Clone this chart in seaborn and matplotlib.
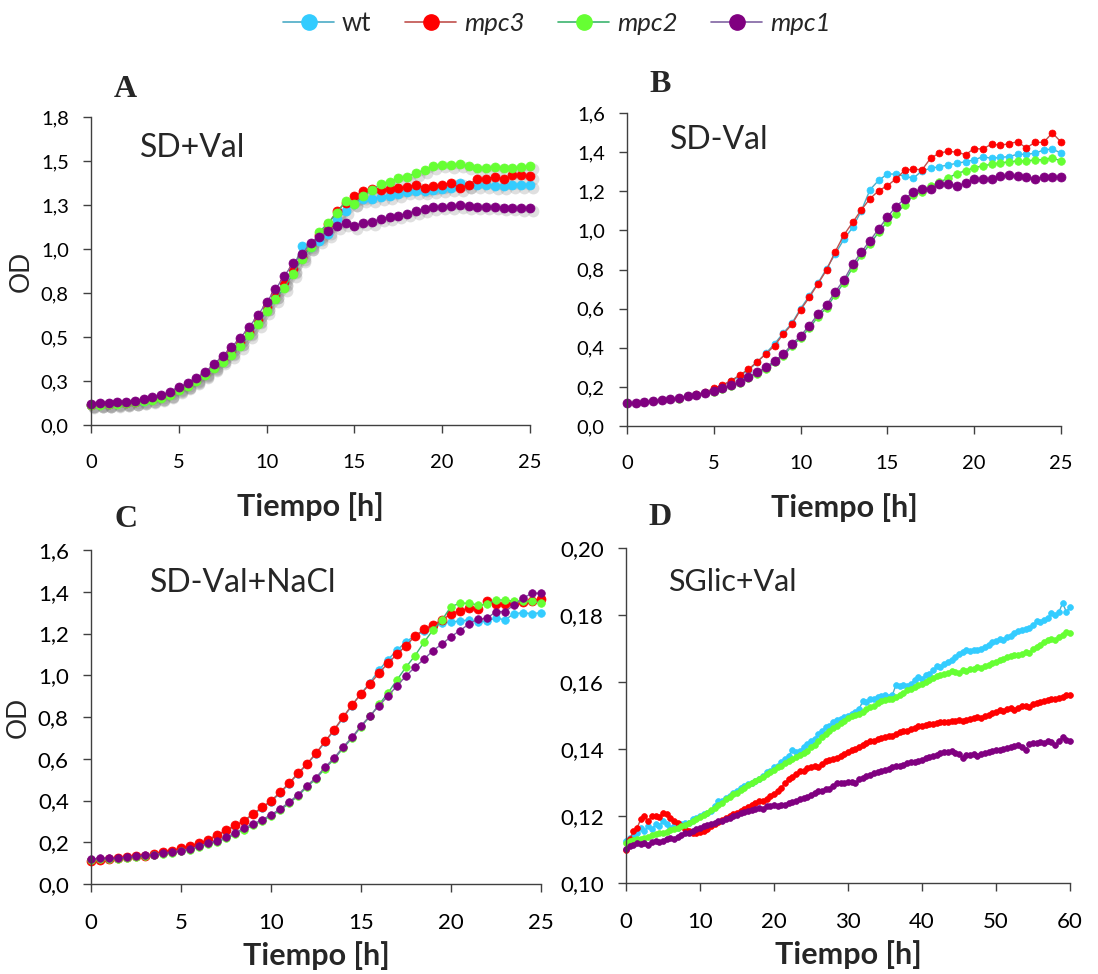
import matplotlib
matplotlib.use("Agg")
import matplotlib.pyplot as plt
from matplotlib.lines import Line2D
from matplotlib.transforms import ScaledTranslation
import numpy as np
import seaborn as sns

# ---- data ---------------------------------------------------------------
strains = ["wt", "mpc3", "mpc2", "mpc1"]

hours_25 = np.arange(0, 25.5, 0.5)
hours_60 = np.arange(0, 60.5, 0.5)

# A: SD+Val
a_wt = [0.115, 0.117, 0.119, 0.122, 0.126, 0.131, 0.137, 0.146, 0.158, 0.175,
        0.205, 0.226, 0.256, 0.290, 0.330, 0.373, 0.416, 0.468, 0.528, 0.596,
        0.668, 0.738, 0.808, 0.880, 1.018, 1.009, 1.047, 1.084, 1.169, 1.213,
        1.258, 1.282, 1.282, 1.296, 1.301, 1.311, 1.326, 1.330, 1.330, 1.333,
        1.339, 1.348, 1.377, 1.364, 1.364, 1.364, 1.358, 1.358, 1.362, 1.362,
        1.362]
a_mpc3 = [0.115, 0.118, 0.120, 0.123, 0.127, 0.132, 0.139, 0.148, 0.160, 0.177,
          0.207, 0.228, 0.258, 0.292, 0.332, 0.375, 0.418, 0.470, 0.530, 0.598,
          0.670, 0.740, 0.810, 0.885, 0.955, 1.020, 1.080, 1.141, 1.216, 1.264,
          1.301, 1.330, 1.339, 1.333, 1.339, 1.348, 1.352, 1.364, 1.348, 1.358,
          1.364, 1.377, 1.348, 1.364, 1.399, 1.399, 1.409, 1.396, 1.418, 1.418,
          1.414]
a_mpc2 = [0.113, 0.115, 0.117, 0.120, 0.124, 0.128, 0.134, 0.142, 0.153, 0.168,
          0.200, 0.222, 0.250, 0.285, 0.321, 0.360, 0.396, 0.450, 0.509, 0.575,
          0.645, 0.713, 0.779, 0.858, 0.943, 1.009, 1.094, 1.150, 1.203, 1.273,
          1.258, 1.301, 1.333, 1.371, 1.380, 1.405, 1.409, 1.433, 1.447, 1.471,
          1.479, 1.475, 1.484, 1.471, 1.458, 1.462, 1.465, 1.462, 1.458, 1.465,
          1.471]
a_mpc1 = [0.119, 0.123, 0.123, 0.128, 0.132, 0.138, 0.147, 0.157, 0.170, 0.189,
          0.217, 0.236, 0.268, 0.300, 0.345, 0.392, 0.443, 0.494, 0.556, 0.622,
          0.698, 0.770, 0.845, 0.918, 0.969, 1.034, 1.069, 1.103, 1.128, 1.149,
          1.132, 1.150, 1.152, 1.173, 1.179, 1.190, 1.201, 1.216, 1.226, 1.239,
          1.241, 1.245, 1.247, 1.243, 1.241, 1.241, 1.241, 1.235, 1.235, 1.232,
          1.232]

# B: SD-Val
b_wt = [0.119, 0.119, 0.122, 0.127, 0.132, 0.137, 0.141, 0.152, 0.161, 0.171,
        0.190, 0.206, 0.228, 0.257, 0.286, 0.326, 0.372, 0.420, 0.475, 0.525,
        0.600, 0.665, 0.730, 0.805, 0.880, 0.955, 1.015, 1.100, 1.208, 1.256,
        1.288, 1.288, 1.276, 1.267, 1.305, 1.317, 1.326, 1.334, 1.343, 1.351,
        1.360, 1.377, 1.368, 1.373, 1.377, 1.389, 1.389, 1.394, 1.411, 1.416,
        1.395]
b_mpc3 = [0.119, 0.119, 0.123, 0.128, 0.133, 0.138, 0.142, 0.154, 0.162, 0.172,
          0.193, 0.210, 0.232, 0.261, 0.290, 0.329, 0.368, 0.411, 0.469, 0.520,
          0.594, 0.657, 0.727, 0.798, 0.892, 0.977, 1.041, 1.105, 1.162, 1.203,
          1.228, 1.264, 1.307, 1.313, 1.310, 1.370, 1.395, 1.404, 1.400, 1.387,
          1.418, 1.416, 1.441, 1.435, 1.443, 1.453, 1.421, 1.450, 1.450, 1.498,
          1.452]
b_mpc2 = [0.117, 0.118, 0.121, 0.126, 0.131, 0.136, 0.140, 0.151, 0.157, 0.168,
          0.176, 0.189, 0.205, 0.222, 0.246, 0.268, 0.292, 0.325, 0.358, 0.408,
          0.450, 0.500, 0.558, 0.605, 0.672, 0.732, 0.810, 0.872, 0.932, 0.990,
          1.045, 1.085, 1.130, 1.180, 1.195, 1.225, 1.245, 1.268, 1.290, 1.305,
          1.320, 1.330, 1.338, 1.345, 1.350, 1.355, 1.355, 1.360, 1.362, 1.370,
          1.355]
b_mpc1 = [0.119, 0.119, 0.123, 0.128, 0.133, 0.138, 0.142, 0.154, 0.159, 0.171,
          0.179, 0.193, 0.210, 0.227, 0.252, 0.275, 0.300, 0.333, 0.367, 0.418,
          0.462, 0.513, 0.571, 0.619, 0.687, 0.747, 0.827, 0.889, 0.948, 1.008,
          1.068, 1.122, 1.162, 1.196, 1.213, 1.213, 1.238, 1.237, 1.228, 1.242,
          1.262, 1.264, 1.264, 1.276, 1.281, 1.279, 1.271, 1.264, 1.273, 1.273,
          1.273]

# C: SD-Val+NaCl
c_wt = [0.115, 0.118, 0.121, 0.124, 0.128, 0.132, 0.136, 0.143, 0.150, 0.158,
        0.169, 0.180, 0.193, 0.209, 0.232, 0.253, 0.277, 0.300, 0.333, 0.363,
        0.395, 0.435, 0.480, 0.528, 0.573, 0.624, 0.680, 0.735, 0.795, 0.855,
        0.912, 0.965, 1.025, 1.075, 1.120, 1.160, 1.190, 1.210, 1.230, 1.250,
        1.255, 1.260, 1.265, 1.255, 1.260, 1.275, 1.265, 1.295, 1.300, 1.295,
        1.300]
c_mpc3 = [0.112, 0.116, 0.120, 0.123, 0.128, 0.132, 0.136, 0.144, 0.152, 0.160,
          0.172, 0.183, 0.196, 0.212, 0.236, 0.257, 0.281, 0.303, 0.337, 0.367,
          0.399, 0.439, 0.483, 0.531, 0.576, 0.627, 0.683, 0.739, 0.799, 0.858,
          0.911, 0.959, 1.010, 1.058, 1.101, 1.141, 1.188, 1.220, 1.242, 1.265,
          1.294, 1.310, 1.320, 1.318, 1.355, 1.340, 1.340, 1.345, 1.350, 1.355,
          1.365]
c_mpc2 = [0.115, 0.118, 0.120, 0.122, 0.126, 0.130, 0.134, 0.139, 0.145, 0.150,
          0.157, 0.164, 0.176, 0.190, 0.202, 0.218, 0.238, 0.261, 0.281, 0.302,
          0.326, 0.353, 0.386, 0.422, 0.465, 0.504, 0.553, 0.597, 0.650, 0.698,
          0.753, 0.803, 0.860, 0.915, 0.978, 1.039, 1.094, 1.158, 1.217, 1.265,
          1.329, 1.345, 1.345, 1.337, 1.340, 1.361, 1.360, 1.355, 1.355, 1.355,
          1.345]
c_mpc1 = [0.120, 0.123, 0.123, 0.123, 0.128, 0.132, 0.137, 0.140, 0.148, 0.153,
          0.160, 0.167, 0.180, 0.196, 0.207, 0.223, 0.244, 0.268, 0.287, 0.308,
          0.332, 0.359, 0.392, 0.428, 0.471, 0.510, 0.560, 0.603, 0.656, 0.703,
          0.758, 0.806, 0.853, 0.901, 0.949, 0.997, 1.039, 1.077, 1.118, 1.150,
          1.185, 1.214, 1.246, 1.268, 1.273, 1.305, 1.305, 1.337, 1.369, 1.393,
          1.393]

# D: SGlic+Val (0-60 h)
d_wt = [0.1125, 0.1135, 0.1140, 0.1150, 0.1165, 0.1155, 0.1170, 0.1160, 0.1175, 0.1170,
        0.1185, 0.1175, 0.1165, 0.1170, 0.1165, 0.1175, 0.1180, 0.1180, 0.1190, 0.1195,
        0.1200, 0.1205, 0.1210, 0.1215, 0.1230, 0.1245, 0.1245, 0.1255, 0.1260, 0.1270,
        0.1275, 0.1285, 0.1290, 0.1295, 0.1300, 0.1305, 0.1310, 0.1320, 0.1330, 0.1335,
        0.1345, 0.1350, 0.1360, 0.1370, 0.1380, 0.1398, 0.1390, 0.1395, 0.1405, 0.1415,
        0.1425, 0.1430, 0.1445, 0.1455, 0.1465, 0.1470, 0.1480, 0.1488, 0.1490, 0.1495,
        0.1500, 0.1505, 0.1510, 0.1520, 0.1542, 0.1540, 0.1548, 0.1550, 0.1555, 0.1558,
        0.1560, 0.1555, 0.1562, 0.1592, 0.1588, 0.1590, 0.1589, 0.1595, 0.1605, 0.1615,
        0.1610, 0.1620, 0.1625, 0.1635, 0.1647, 0.1645, 0.1655, 0.1660, 0.1665, 0.1675,
        0.1685, 0.1690, 0.1697, 0.1692, 0.1695, 0.1697, 0.1700, 0.1705, 0.1712, 0.1721,
        0.1722, 0.1730, 0.1726, 0.1735, 0.1738, 0.1745, 0.1751, 0.1755, 0.1758, 0.1761,
        0.1770, 0.1781, 0.1778, 0.1786, 0.1790, 0.1805, 0.1800, 0.1808, 0.1836, 0.1810,
        0.1823]
d_mpc3 = [0.1100, 0.1130, 0.1154, 0.1165, 0.1190, 0.1199, 0.1185, 0.1199, 0.1200, 0.1198,
          0.1209, 0.1205, 0.1194, 0.1185, 0.1179, 0.1170, 0.1160, 0.1155, 0.1150, 0.1149,
          0.1152, 0.1155, 0.1162, 0.1169, 0.1175, 0.1182, 0.1188, 0.1195, 0.1199, 0.1205,
          0.1210, 0.1215, 0.1222, 0.1226, 0.1232, 0.1238, 0.1244, 0.1245, 0.1252, 0.1259,
          0.1265, 0.1275, 0.1285, 0.1300, 0.1310, 0.1318, 0.1325, 0.1333, 0.1335, 0.1342,
          0.1345, 0.1350, 0.1345, 0.1355, 0.1365, 0.1368, 0.1370, 0.1373, 0.1380, 0.1385,
          0.1390, 0.1398, 0.1400, 0.1405, 0.1412, 0.1418, 0.1423, 0.1425, 0.1430, 0.1432,
          0.1436, 0.1438, 0.1440, 0.1445, 0.1450, 0.1453, 0.1455, 0.1460, 0.1462, 0.1468,
          0.1470, 0.1472, 0.1475, 0.1476, 0.1478, 0.1480, 0.1482, 0.1480, 0.1483, 0.1485,
          0.1487, 0.1483, 0.1488, 0.1490, 0.1492, 0.1495, 0.1493, 0.1498, 0.1503, 0.1508,
          0.1512, 0.1517, 0.1515, 0.1520, 0.1522, 0.1518, 0.1522, 0.1528, 0.1530, 0.1526,
          0.1535, 0.1537, 0.1540, 0.1542, 0.1545, 0.1548, 0.1550, 0.1552, 0.1555, 0.1560,
          0.1562]
d_mpc2 = [0.1120, 0.1125, 0.1128, 0.1130, 0.1132, 0.1135, 0.1138, 0.1142, 0.1145, 0.1148,
          0.1150, 0.1153, 0.1158, 0.1162, 0.1165, 0.1170, 0.1174, 0.1180, 0.1185, 0.1192,
          0.1198, 0.1204, 0.1210, 0.1218, 0.1225, 0.1232, 0.1240, 0.1250, 0.1258, 0.1265,
          0.1270, 0.1278, 0.1285, 0.1293, 0.1300, 0.1305, 0.1310, 0.1318, 0.1325, 0.1330,
          0.1338, 0.1345, 0.1350, 0.1358, 0.1365, 0.1370, 0.1375, 0.1382, 0.1388, 0.1395,
          0.1405, 0.1412, 0.1425, 0.1435, 0.1445, 0.1455, 0.1462, 0.1468, 0.1478, 0.1485,
          0.1492, 0.1500, 0.1502, 0.1505, 0.1512, 0.1520, 0.1527, 0.1530, 0.1538, 0.1542,
          0.1547, 0.1550, 0.1548, 0.1555, 0.1560, 0.1567, 0.1575, 0.1580, 0.1585, 0.1592,
          0.1595, 0.1600, 0.1605, 0.1612, 0.1617, 0.1620, 0.1625, 0.1628, 0.1632, 0.1630,
          0.1628, 0.1635, 0.1632, 0.1638, 0.1640, 0.1645, 0.1642, 0.1647, 0.1652, 0.1658,
          0.1660, 0.1667, 0.1670, 0.1675, 0.1678, 0.1680, 0.1682, 0.1685, 0.1690, 0.1687,
          0.1698, 0.1706, 0.1712, 0.1721, 0.1725, 0.1728, 0.1725, 0.1735, 0.1740, 0.1748,
          0.1746]
d_mpc1 = [0.1102, 0.1112, 0.1115, 0.1119, 0.1118, 0.1120, 0.1115, 0.1122, 0.1124, 0.1122,
          0.1125, 0.1130, 0.1134, 0.1132, 0.1138, 0.1142, 0.1149, 0.1150, 0.1155, 0.1160,
          0.1165, 0.1169, 0.1172, 0.1176, 0.1180, 0.1184, 0.1186, 0.1190, 0.1195, 0.1200,
          0.1204, 0.1208, 0.1212, 0.1215, 0.1219, 0.1222, 0.1224, 0.1222, 0.1229, 0.1229,
          0.1232, 0.1230, 0.1234, 0.1234, 0.1238, 0.1242, 0.1245, 0.1250, 0.1254, 0.1258,
          0.1262, 0.1268, 0.1274, 0.1276, 0.1280, 0.1282, 0.1290, 0.1299, 0.1300, 0.1300,
          0.1302, 0.1303, 0.1300, 0.1310, 0.1315, 0.1320, 0.1323, 0.1328, 0.1330, 0.1335,
          0.1338, 0.1340, 0.1345, 0.1348, 0.1350, 0.1353, 0.1358, 0.1360, 0.1362, 0.1363,
          0.1368, 0.1372, 0.1376, 0.1380, 0.1383, 0.1388, 0.1392, 0.1390, 0.1393, 0.1388,
          0.1385, 0.1373, 0.1383, 0.1383, 0.1385, 0.1380, 0.1386, 0.1388, 0.1392, 0.1395,
          0.1398, 0.1398, 0.1400, 0.1402, 0.1405, 0.1408, 0.1413, 0.1405, 0.1398, 0.1415,
          0.1418, 0.1418, 0.1420, 0.1418, 0.1425, 0.1420, 0.1412, 0.1425, 0.1435, 0.1428,
          0.1423]

# axis ticks (Excel rounds the 0.25 steps of panel A to one decimal)
a_yticks = [0, 0.25, 0.5, 0.75, 1.0, 1.25, 1.5, 1.75]
a_ylabels = ["0,0", "0,3", "0,5", "0,8", "1,0", "1,3", "1,5", "1,8"]
bc_yticks = [0, 0.2, 0.4, 0.6, 0.8, 1.0, 1.2, 1.4, 1.6]
bc_ylabels = ["0,0", "0,2", "0,4", "0,6", "0,8", "1,0", "1,2", "1,4", "1,6"]
d_yticks = [0.10, 0.12, 0.14, 0.16, 0.18, 0.20]
d_ylabels = ["0,10", "0,12", "0,14", "0,16", "0,18", "0,20"]
xticks_25 = [0, 5, 10, 15, 20, 25]
xticks_60 = [0, 10, 20, 30, 40, 50, 60]

line_colors = {"wt": "#4BACC6", "mpc3": "#C0504D", "mpc2": "#3CB46E", "mpc1": "#8064A2"}
marker_colors = {"wt": "#33CCFF", "mpc3": "#FF0000", "mpc2": "#66FF33", "mpc1": "#800080"}

# ---- style --------------------------------------------------------------
sns.set_style("ticks")
plt.rcParams["font.family"] = ["Lato", "DejaVu Sans"]

fig = plt.figure(figsize=(10.98, 9.74), dpi=100)
ax_a = fig.add_axes([0.0829, 0.5637, 0.3998, 0.3162])
ax_b = fig.add_axes([0.5710, 0.5626, 0.3953, 0.3214])
ax_c = fig.add_axes([0.0829, 0.0924, 0.4098, 0.3429])
ax_d = fig.add_axes([0.5701, 0.0934, 0.4044, 0.3439])

# (axes, x, series, marker sizes, ylim, yticks, ylabels, xticks, condition, its position,
#  letter, show OD, tick size, xlabel pad, drop shadow)
panels = [
    (ax_a, hours_25, [a_wt, a_mpc3, a_mpc2, a_mpc1], [6.5, 6.5, 6.5, 6.5], (0, 1.75),
     a_yticks, a_ylabels, xticks_25, "SD+Val", (0.112, 0.90), "A", True, 14.5, 15, True),
    (ax_b, hours_25, [b_wt, b_mpc3, b_mpc2, b_mpc1], [5.0, 5.0, 5.5, 6.5], (0, 1.6),
     bc_yticks, bc_ylabels, xticks_25, "SD-Val", (0.099, 0.914), "B", False, 14.5, 15, False),
    (ax_c, hours_25, [c_wt, c_mpc3, c_mpc2, c_mpc1], [5.5, 6.5, 5.5, 5.5], (0, 1.6),
     bc_yticks, bc_ylabels, xticks_25, "SD-Val+NaCl", (0.131, 0.90), "C", True, 16, 6, False),
    (ax_d, hours_60, [d_wt, d_mpc3, d_mpc2, d_mpc1], [4.2, 4.2, 4.2, 4.2], (0.10, 0.20),
     d_yticks, d_ylabels, xticks_60, "SGlic+Val", (0.095, 0.899), "D", False, 16, 6, False),
]

for (ax, x, series, sizes, ylim, yt, yl, xt, cond, cond_pos, letter, show_od,
     tsize, xpad, shadow) in panels:
    if shadow:
        offset = ax.transData + ScaledTranslation(2 / 72, -2 / 72, fig.dpi_scale_trans)
        for values, ms in zip(series, sizes):
            sns.lineplot(x=x, y=values, ax=ax, color="#808080", alpha=0.25, linewidth=2,
                         marker="o", markersize=ms + 2, markeredgewidth=0,
                         transform=offset, clip_on=False, legend=False)
    for name, values, ms in zip(strains, series, sizes):
        sns.lineplot(x=x, y=values, ax=ax, color=line_colors[name], linewidth=1.0,
                     marker="o", markersize=ms, markerfacecolor=marker_colors[name],
                     markeredgecolor=marker_colors[name], markeredgewidth=0.5,
                     clip_on=False, legend=False)
    ax.set_xlim(xt[0], xt[-1])
    ax.set_ylim(*ylim)
    ax.set_xticks(xt)
    ax.set_xticklabels([str(t) for t in xt])
    ax.set_yticks(yt)
    ax.set_yticklabels(yl)
    sns.despine(ax=ax)
    for side in ["left", "bottom"]:
        ax.spines[side].set_color("#404040")
        ax.spines[side].set_linewidth(1.0)
    ax.tick_params(axis="both", direction="out", length=6, width=1, color="#404040",
                   labelsize=tsize, labelcolor="black")
    ax.tick_params(axis="x", pad=15)
    ax.tick_params(axis="y", pad=10)
    ax.set_xlabel("Tiempo [h]", fontsize=22, fontweight="bold", labelpad=xpad)
    ax.set_ylabel("OD" if show_od else "", fontsize=19, labelpad=5)
    ax.text(cond_pos[0], cond_pos[1], cond, transform=ax.transAxes,
            fontsize=22 if letter == "D" else 23, ha="left", va="center")
    ax.text(0.077, 1.09, letter, transform=ax.transAxes, fontsize=23, fontweight="bold",
            family="Liberation Serif", ha="center", va="center")

# ---- legend -------------------------------------------------------------
handles = [Line2D([0], [0], color=line_colors[s], linewidth=1.2, marker="o",
                  markersize=11, markerfacecolor=marker_colors[s],
                  markeredgecolor=marker_colors[s]) for s in strains]
leg = fig.legend(handles, strains, loc="upper center", bbox_to_anchor=(0.507, 1.012),
                 ncol=4, frameon=False, fontsize=18.5, handlelength=2.0,
                 handletextpad=0.3, columnspacing=1.3)
for txt in leg.get_texts()[1:]:
    txt.set_fontstyle("italic")

fig.savefig("out.png", dpi=100)
